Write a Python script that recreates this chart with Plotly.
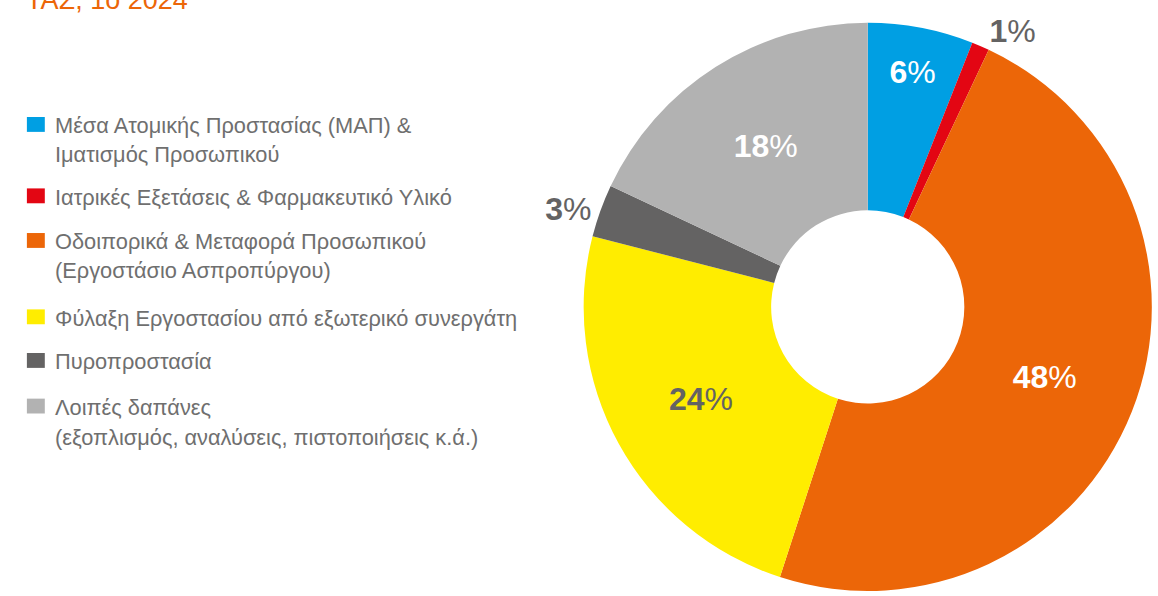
import plotly.graph_objects as go

labels = [
    "Μέσα Ατομικής Προστασίας (ΜΑΠ) &<br>Ιματισμός Προσωπικού",
    "Ιατρικές Εξετάσεις & Φαρμακευτικό Υλικό",
    "Οδοιπορικά & Μεταφορά Προσωπικού<br>(Εργοστάσιο Ασπροπύργου)",
    "Φύλαξη Εργοστασίου από εξωτερικό συνεργάτη",
    "Πυροπροστασία",
    "Λοιπές δαπάνες<br>(εξοπλισμός, αναλύσεις, πιστοποιήσεις κ.ά.)",
]
values = [6, 1, 48, 24, 3, 18]
colors = ["#009fe3", "#e30613", "#ec6608", "#ffed00", "#646363", "#b2b2b2"]
text_colors = ["#ffffff", "#646363", "#ffffff", "#646363", "#646363", "#ffffff"]
text_pos = ["inside", "outside", "inside", "inside", "outside", "inside"]
title_text = "ΤΑΣ, 1ο 2024"

W, H = 1158, 596
FONT = "Liberation Sans, Arial, sans-serif"
GRAY = "#6f6f6f"

fig = go.Figure()
fig.add_trace(go.Pie(
    labels=labels, values=values, sort=False, direction="clockwise", rotation=0,
    hole=0.34,
    marker=dict(colors=colors, line=dict(width=0)),
    texttemplate="<b>%{value}</b>%",
    textposition=text_pos,
    insidetextorientation="horizontal",
    textfont=dict(family=FONT, size=32, color=text_colors),
    domain=dict(x=[585 / W, 1.0], y=[0.0, 1 - 23 / H]),
    showlegend=False,
    hoverinfo="label+percent",
))

# manual legend
legend_lines = [
    [126, 155], [198], [243, 272], [320], [364], [410, 440],
]
shapes = []
annotations = []
for lab, col, ys in zip(labels, colors, legend_lines):
    y0 = ys[0]
    shapes.append(dict(type="rect", xref="paper", yref="paper",
                       x0=27 / W, x1=45 / W, y0=1 - (y0 - 8) / H, y1=1 - (y0 + 7) / H,
                       fillcolor=col, line=dict(width=0)))
    for line, yy in zip(lab.split("<br>"), ys):
        annotations.append(dict(text=line, xref="paper", yref="paper",
                                x=53 / W, y=1 - (yy + 1) / H, xanchor="left", yanchor="middle",
                                showarrow=False, font=dict(family=FONT, size=21.8, color=GRAY)))

annotations.append(dict(text=title_text, xref="paper", yref="paper",
                        x=24 / W, y=1 - 17 / H, xanchor="left", yanchor="bottom",
                        showarrow=False, font=dict(family=FONT, size=27, color="#ec6608")))

fig.update_layout(
    width=W, height=H,
    margin=dict(l=0, r=0, t=0, b=0),
    paper_bgcolor="white", plot_bgcolor="white",
    shapes=shapes, annotations=annotations,
)
fig.write_html(
    "out.html",
    config={"displayModeBar": False},
    post_script=(
        "document.body.style.margin='0';"
        "document.body.style.overflow='hidden';"
        "document.documentElement.style.overflow='hidden';"
    ),
)
